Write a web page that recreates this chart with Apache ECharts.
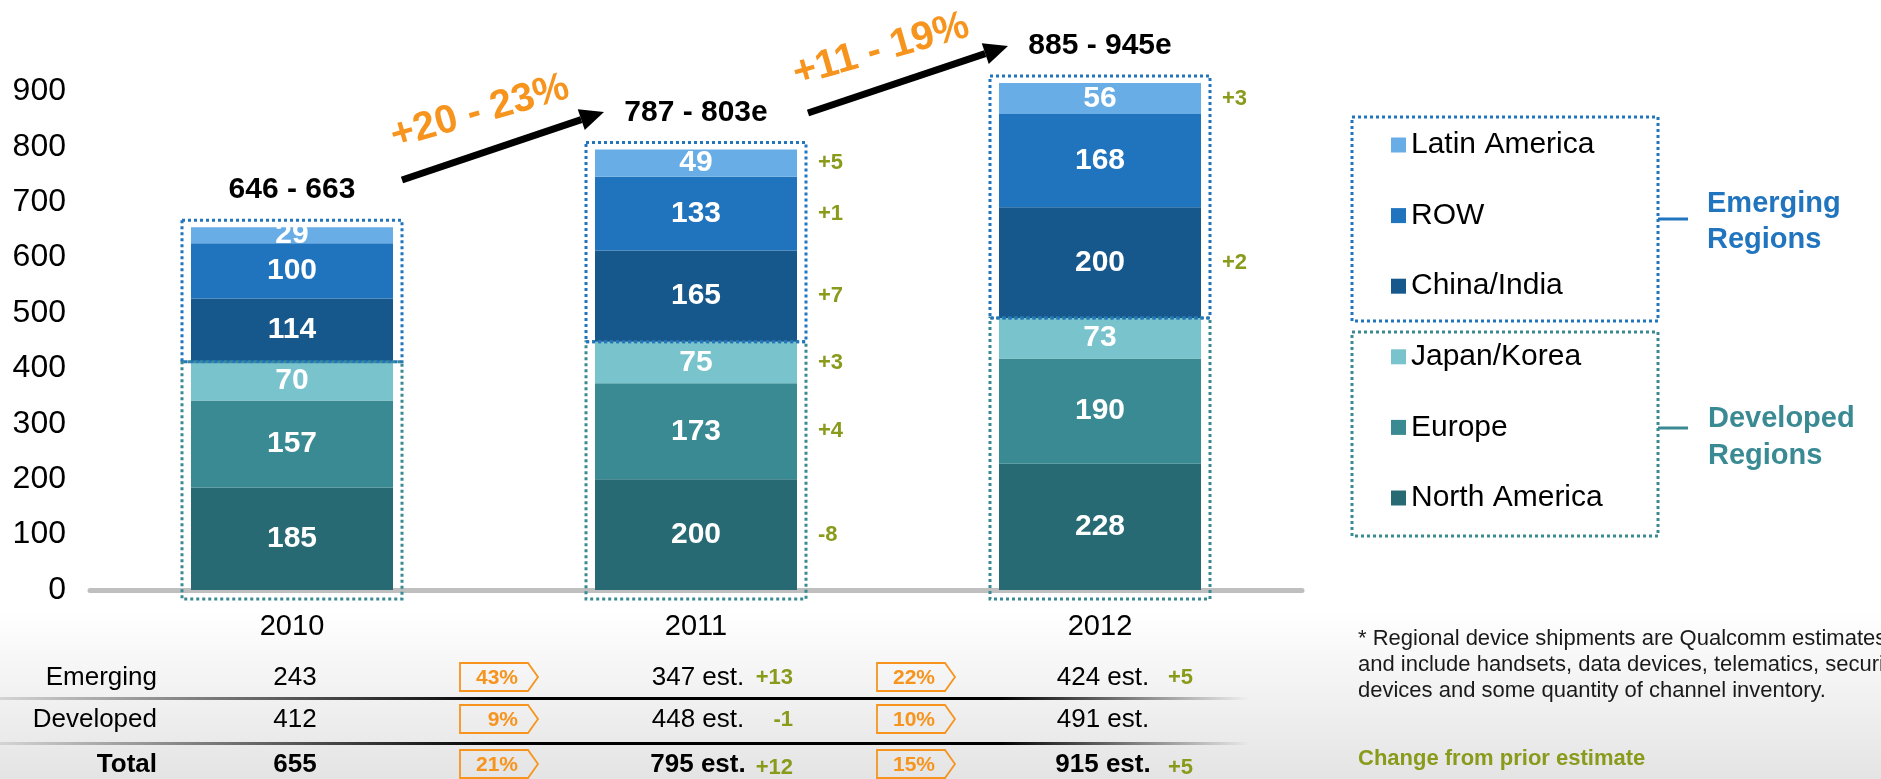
<!DOCTYPE html>
<html>
<head>
<meta charset="utf-8">
<script src="https://cdn.jsdelivr.net/npm/echarts@6/dist/echarts.min.js"></script>
<style>
  html, body { margin: 0; padding: 0; background: #fff; }
  #chart { width: 1881px; height: 779px; }
</style>
</head>
<body>
<div id="chart"></div>
<script>
(function() {
  var FONT = '"Liberation Sans", Arial, sans-serif';

  // data
  var years = ['2010', '2011', '2012'];
  var northAmerica = [185, 200, 228];
  var europe = [157, 173, 190];
  var japanKorea = [70, 75, 73];
  var chinaIndia = [114, 165, 200];
  var restOfWorld = [100, 133, 168];
  var latinAmerica = [29, 49, 56];
  var rangeLabels = ['646 - 663', '787 - 803e', '885 - 945e'];
  // change from prior estimate, same order as stacking (NA, Europe, J/K, C/I, ROW, LatAm)
  var changes2010 = ['', '', '', '', '', ''];
  var changes2011 = ['-8', '+4', '+3', '+7', '+1', '+5'];
  var changes2012 = ['', '', '', '+2', '', '+3'];
  var growthLabels = ['+20 - 23%', '+11 - 19%'];

  var tableRows = ['Emerging', 'Developed', 'Total'];
  var col2010 = ['243', '412', '655'];
  var growth1 = ['43%', '9%', '21%'];
  var col2011 = ['347 est.', '448 est.', '795 est.'];
  var delta2011 = ['+13', '-1', '+12'];
  var growth2 = ['22%', '10%', '15%'];
  var col2012 = ['424 est.', '491 est.', '915 est.'];
  var delta2012 = ['+5', '', '+5'];

  var seriesNames = ['North America', 'Europe', 'Japan/Korea', 'China/India', 'ROW', 'Latin America'];
  var seriesData = [northAmerica, europe, japanKorea, chinaIndia, restOfWorld, latinAmerica];
  var colors = ['#286a73', '#398a93', '#78c3cc', '#17588c', '#2074be', '#69ade6'];
  var blue = '#2174be', teal = '#3a8a93', orange = '#f7941e', olive = '#8a9a1b';
  var BAR_W = 202;

  var chart = echarts.init(document.getElementById('chart'));

  var developed = years.map(function(y, i) { return northAmerica[i] + europe[i] + japanKorea[i]; });
  var totals = years.map(function(y, i) {
    return developed[i] + chinaIndia[i] + restOfWorld[i] + latinAmerica[i];
  });

  var barSeries = seriesNames.map(function(name, k) {
    return {
      name: name,
      type: 'bar',
      stack: 'total',
      barWidth: BAR_W,
      data: seriesData[k],
      itemStyle: { color: colors[k] },
      label: {
        show: true,
        position: 'inside',
        color: '#fff',
        fontFamily: FONT,
        fontWeight: 'bold',
        fontSize: 30
      }
    };
  });

  // dotted region boxes around each bar
  var boxSeries = {
    type: 'custom',
    silent: true,
    z: 5,
    data: years.map(function(y, i) { return [i, developed[i], totals[i]]; }),
    encode: { x: 0, y: 1 },
    renderItem: function(params, api) {
      var i = api.value(0);
      var p0 = api.coord([i, 0]);
      var p1 = api.coord([i, api.value(1)]);
      var p2 = api.coord([i, api.value(2)]);
      var half = BAR_W / 2 + 9;
      var dash = { fill: 'none', lineWidth: 3, lineDash: [3, 3] };
      return {
        type: 'group',
        children: [
          { type: 'rect', shape: { x: p0[0] - half, y: p1[1], width: half * 2, height: p0[1] + 9 - p1[1] },
            style: Object.assign({ stroke: teal }, dash) },
          { type: 'rect', shape: { x: p0[0] - half, y: p2[1] - 7, width: half * 2, height: p1[1] - p2[1] + 7 },
            style: Object.assign({ stroke: blue }, dash) }
        ]
      };
    }
  };

  // range labels above bars
  var rangeSeries = {
    type: 'custom',
    silent: true,
    z: 6,
    data: years.map(function(y, i) { return [i, totals[i]]; }),
    encode: { x: 0, y: 1 },
    renderItem: function(params, api) {
      var p = api.coord([api.value(0), api.value(1)]);
      return {
        type: 'text', x: p[0], y: p[1] - 37,
        style: {
          text: rangeLabels[params.dataIndex], fill: '#000',
          font: 'bold 30px ' + FONT,
          align: 'center', verticalAlign: 'middle',
          textAlign: 'center', textVerticalAlign: 'middle'
        }
      };
    }
  };

  // change from prior estimate next to segments
  var changeSets = [changes2010, changes2011, changes2012];
  var changeItems = [], changeTexts = [];
  changeSets.forEach(function(set, i) {
    var base = 0;
    set.forEach(function(t, k) {
      var v = seriesData[k][i];
      if (t) { changeItems.push([i, base + v / 2]); changeTexts.push(t); }
      base += v;
    });
  });
  var changeSeries = {
    type: 'custom',
    silent: true,
    z: 6,
    data: changeItems,
    encode: { x: 0, y: 1 },
    renderItem: function(params, api) {
      var p = api.coord([api.value(0), api.value(1)]);
      return {
        type: 'text', x: p[0] + BAR_W / 2 + 21, y: p[1],
        style: {
          text: changeTexts[params.dataIndex], fill: olive,
          font: 'bold 22px ' + FONT,
          align: 'left', verticalAlign: 'middle',
          textAlign: 'left', textVerticalAlign: 'middle'
        }
      };
    }
  };

  function txt(x, y, text, font, fill, align, extra) {
    var o = {
      type: 'text', x: x, y: y, silent: true,
      style: {
        text: text, font: font + ' ' + FONT, fill: fill || '#000',
        align: align || 'left', verticalAlign: 'middle',
        textAlign: align || 'left', textVerticalAlign: 'middle'
      }
    };
    if (extra) Object.assign(o, extra);
    return o;
  }

  function arrow(x1, y1, x2, y2) {
    var a = Math.atan2(y2 - y1, x2 - x1);
    var len = 24, w = 11;
    var bx = x2 - len * Math.cos(a), by = y2 - len * Math.sin(a);
    var nx = -Math.sin(a), ny = Math.cos(a);
    return [
      { type: 'line', silent: true, shape: { x1: x1, y1: y1, x2: bx, y2: by },
        style: { stroke: '#000', lineWidth: 7 } },
      { type: 'polygon', silent: true,
        shape: { points: [[x2, y2], [bx + nx * w, by + ny * w], [bx - nx * w, by - ny * w]] },
        style: { fill: '#000' } }
    ];
  }

  function growthBox(x, y, text) {
    return [
      { type: 'polygon', silent: true,
        shape: { points: [[x, y - 14], [x + 68, y - 14], [x + 78, y], [x + 68, y + 14], [x, y + 14]] },
        style: { fill: 'none', stroke: orange, lineWidth: 1.8 } },
      txt(x + 58, y + 1, text, 'bold 21px', orange, 'right')
    ];
  }

  var sepGradient = new echarts.graphic.LinearGradient(0, 0, 1, 0, [
    { offset: 0, color: '#d4d4d4' },
    { offset: 0.3, color: '#333' },
    { offset: 0.4, color: '#000' },
    { offset: 0.8, color: '#000' },
    { offset: 1, color: 'rgba(0,0,0,0)' }
  ]);

  var graphics = [
    { type: 'rect', z: -1, silent: true, shape: { x: 0, y: 610, width: 1881, height: 169 },
      style: { fill: new echarts.graphic.LinearGradient(0, 0, 0, 1, [
        { offset: 0, color: '#ffffff' }, { offset: 1, color: '#e4e4e4' }]) } },
    { type: 'rect', silent: true, shape: { x: 0, y: 697, width: 1250, height: 3 }, style: { fill: sepGradient } },
    { type: 'rect', silent: true, shape: { x: 0, y: 742, width: 1250, height: 3 }, style: { fill: sepGradient } },
    // legend boxes and region labels
    { type: 'rect', silent: true, shape: { x: 1352, y: 117, width: 306, height: 204 },
      style: { fill: 'none', stroke: blue, lineWidth: 3, lineDash: [3, 3] } },
    { type: 'rect', silent: true, shape: { x: 1352, y: 332, width: 306, height: 204 },
      style: { fill: 'none', stroke: teal, lineWidth: 3, lineDash: [3, 3] } },
    { type: 'line', silent: true, shape: { x1: 1658, y1: 219, x2: 1688, y2: 219 },
      style: { stroke: blue, lineWidth: 3 } },
    { type: 'line', silent: true, shape: { x1: 1658, y1: 428, x2: 1688, y2: 428 },
      style: { stroke: teal, lineWidth: 3 } },
    txt(1707, 204, 'Emerging', 'bold 29px', blue),
    txt(1707, 240, 'Regions', 'bold 29px', blue),
    txt(1708, 419, 'Developed', 'bold 29px', teal),
    txt(1708, 456, 'Regions', 'bold 29px', teal),
    // growth arrows
    txt(480, 112, growthLabels[0], 'bold 40px', orange, 'center', { rotation: 16 * Math.PI / 180 }),
    txt(881, 50, growthLabels[1], 'bold 40px', orange, 'center', { rotation: 16 * Math.PI / 180 }),
    // footnote
    txt(1358, 639, '* Regional device shipments are Qualcomm estimates', '22px', '#1a1a1a'),
    txt(1358, 665, 'and include handsets, data devices, telematics, security', '22px', '#1a1a1a'),
    txt(1358, 691, 'devices and some quantity of channel inventory.', '22px', '#1a1a1a'),
    txt(1358, 759, 'Change from prior estimate', 'bold 22px', olive)
  ];
  graphics = graphics.concat(arrow(402, 180, 604, 112), arrow(808, 113, 1008, 46));

  var rowY = [678, 720, 765];
  tableRows.forEach(function(name, r) {
    var w = r === 2 ? 'bold 26px' : '26px';
    graphics.push(txt(157, rowY[r], name, w, '#000', 'right'));
    graphics.push(txt(295, rowY[r], col2010[r], w, '#000', 'center'));
    graphics.push(txt(698, rowY[r], col2011[r], w, '#000', 'center'));
    graphics.push(txt(1103, rowY[r], col2012[r], w, '#000', 'center'));
    if (delta2011[r]) graphics.push(txt(793, rowY[r] + (r === 2 ? 3 : 0), delta2011[r], 'bold 22px', olive, 'right'));
    if (delta2012[r]) graphics.push(txt(1193, rowY[r] + (r === 2 ? 3 : 0), delta2012[r], 'bold 22px', olive, 'right'));
    graphics = graphics.concat(growthBox(460, rowY[r] - 1, growth1[r]), growthBox(877, rowY[r] - 1, growth2[r]));
  });

  var option = {
    animation: false,
    backgroundColor: '#fff',
    grid: { left: 90, right: 579, top: 36, bottom: 189 },
    legend: {
      orient: 'vertical',
      left: 1386,
      top: 123,
      selectedMode: false,
      icon: 'rect',
      itemWidth: 15,
      itemHeight: 15,
      itemGap: 36.6,
      data: ['Latin America', 'ROW', 'China/India', 'Japan/Korea', 'Europe', 'North America'],
      textStyle: { fontFamily: FONT, fontSize: 30, color: '#000', lineHeight: 34 }
    },
    xAxis: {
      type: 'category',
      data: years,
      axisLine: { lineStyle: { color: '#bfbfbf', width: 5 } },
      axisTick: { show: false },
      axisLabel: { fontFamily: FONT, fontSize: 29, color: '#000', margin: 22 }
    },
    yAxis: {
      type: 'value',
      min: 0,
      max: 1000,
      interval: 100,
      axisLine: { show: false },
      axisTick: { show: false },
      splitLine: { show: false },
      axisLabel: {
        fontFamily: FONT, fontSize: 32, color: '#000', margin: 24,
        formatter: function(v) { return v === 1000 ? '' : v; }
      }
    },
    graphic: graphics,
    series: barSeries.concat([boxSeries, rangeSeries, changeSeries])
  };
  chart.setOption(option);
  window.addEventListener('resize', function() { chart.resize(); });
})();
</script>
</body>
</html>
